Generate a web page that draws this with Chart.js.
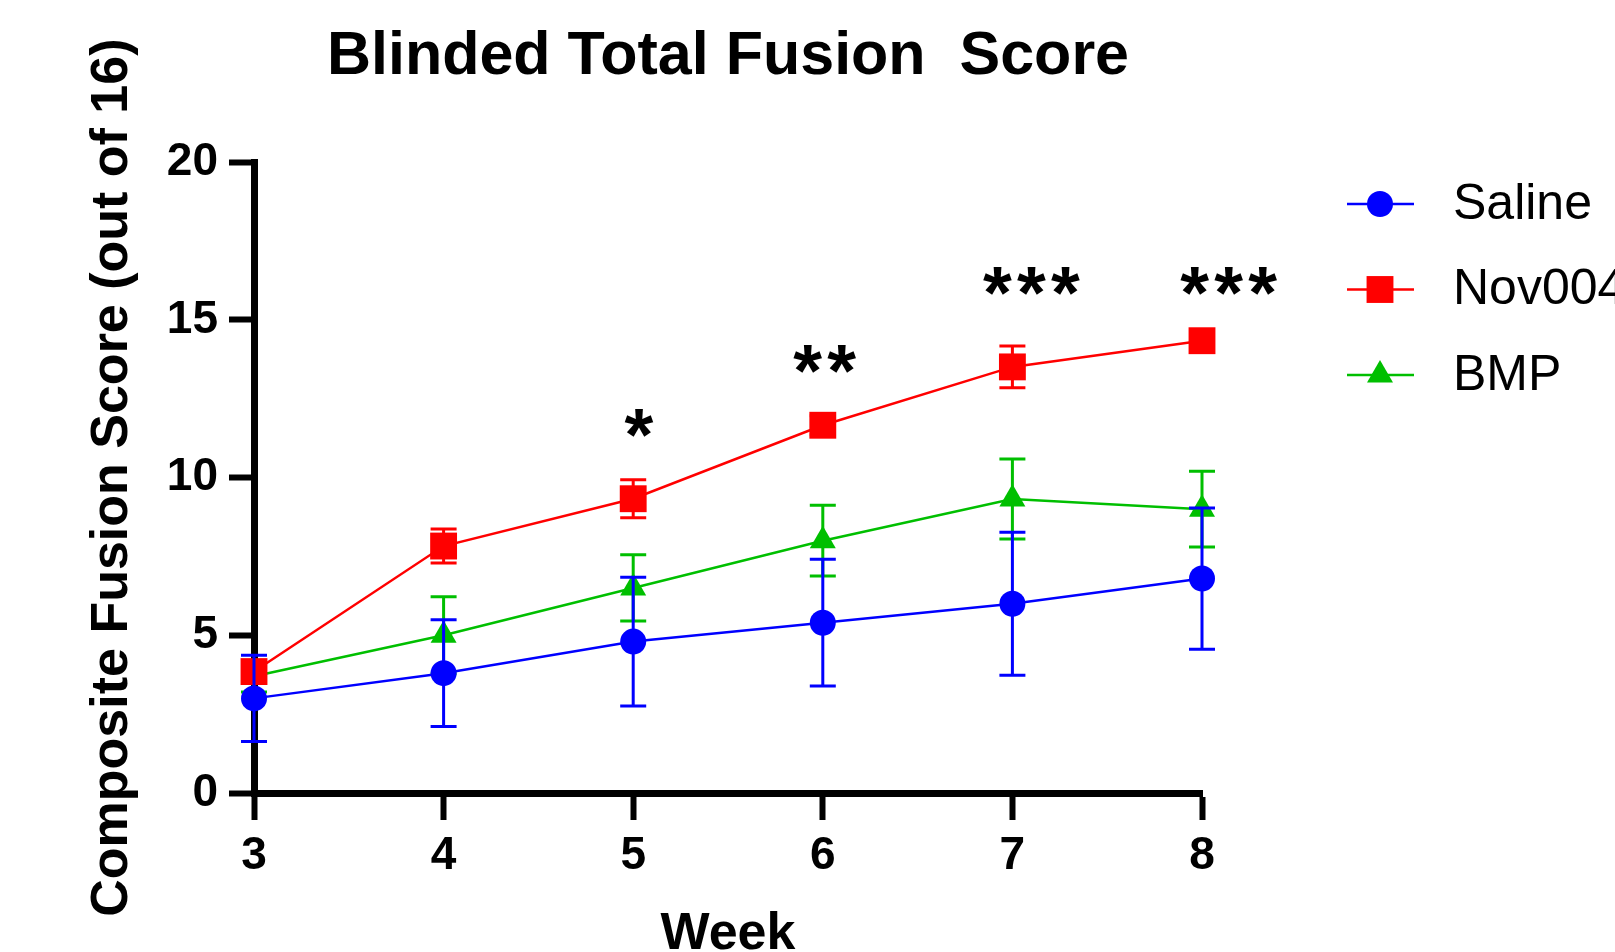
<!DOCTYPE html>
<html>
<head>
<meta charset="utf-8">
<title>Blinded Total Fusion Score</title>
<script src="https://cdn.jsdelivr.net/npm/chart.js@4.4.1/dist/chart.umd.min.js"></script>
<style>
  html, body { margin: 0; padding: 0; background: #fff; overflow: hidden; }
  canvas { display: block; }
</style>
</head>
<body>
<canvas id="fusion-chart" width="1615" height="952"></canvas>
<script>
// Data
const weeks = [3, 4, 5, 6, 7, 8];
const yTicks = [0, 5, 10, 15, 20];

const seriesNames = ['Saline', 'Nov004', 'BMP'];
const salineMean = [3.0, 3.8, 4.8, 5.4, 6.0, 6.8];
const salineErr = [1.37, 1.69, 2.04, 2.01, 2.27, 2.24];
const novMean = [3.85, 7.83, 9.33, 11.66, 13.51, 14.34];
const novErr = [0.35, 0.54, 0.6, 0.3, 0.66, 0.25];
const bmpMean = [3.7, 5.0, 6.5, 8.0, 9.32, 9.0];
const bmpErr = [0.5, 1.22, 1.05, 1.12, 1.27, 1.2];

// Significance marks (week, height in score units)
const sigWeeks = [5.03, 6.01, 7.1, 8.14];
const sigHeights = [11.85, 13.9, 16.35, 16.35];
const sigLabels = ['*', '**', '***', '***'];

const FONT = "'Liberation Sans', Arial, Helvetica, sans-serif";
const colors = ['#0000ff', '#ff0000', '#00bf00'];
const markerStyles = ['circle', 'rect', 'triangle'];
const markerRadius = [13, 19, 15];
const errorSets = [salineErr, novErr, bmpErr];

function toPoints(values) {
    return weeks.map((w, i) => ({x: w, y: values[i]}));
}

// Error bars, drawn just before each dataset so markers sit on top
const errorBarPlugin = {
    id: 'errorBars',
    beforeDatasetDraw(chart, args) {
        const ctx = chart.ctx;
        const yScale = chart.scales.y;
        const ds = chart.data.datasets[args.index];
        const errs = errorSets[args.index];
        ctx.save();
        ctx.strokeStyle = ds.borderColor;
        ctx.lineWidth = 3;
        args.meta.data.forEach((pt, i) => {
            const v = ds.data[i].y;
            const top = yScale.getPixelForValue(v + errs[i]);
            const bottom = yScale.getPixelForValue(v - errs[i]);
            const half = 13;
            ctx.beginPath();
            ctx.moveTo(pt.x, top);
            ctx.lineTo(pt.x, bottom);
            ctx.moveTo(pt.x - half, top);
            ctx.lineTo(pt.x + half, top);
            ctx.moveTo(pt.x - half, bottom);
            ctx.lineTo(pt.x + half, bottom);
            ctx.stroke();
        });
        ctx.restore();
    }
};

// Asterisks above the groups, one glyph at a time so they keep their gaps
const significancePlugin = {
    id: 'significance',
    afterDatasetsDraw(chart) {
        const ctx = chart.ctx;
        const xs = chart.scales.x, ys = chart.scales.y;
        const pitch = 34;
        ctx.save();
        ctx.fillStyle = '#000';
        ctx.font = 'bold 74px ' + FONT;
        ctx.textAlign = 'center';
        ctx.textBaseline = 'alphabetic';
        sigLabels.forEach((label, i) => {
            const cx = xs.getPixelForValue(sigWeeks[i]);
            const y = ys.getPixelForValue(sigHeights[i]) + 41;
            const n = label.length;
            for (let k = 0; k < n; k++) {
                ctx.fillText('*', cx + (k - (n - 1) / 2) * pitch, y);
            }
        });
        ctx.restore();
    }
};

function drawMarker(ctx, style, r, x, y) {
    ctx.beginPath();
    if (style === 'circle') {
        ctx.arc(x, y, r, 0, Math.PI * 2);
    } else if (style === 'rect') {
        const s = r * Math.SQRT1_2;
        ctx.rect(x - s, y - s, 2 * s, 2 * s);
    } else {
        const w = r * Math.sqrt(3) / 2;
        ctx.moveTo(x, y - r);
        ctx.lineTo(x + w, y + r / 2);
        ctx.lineTo(x - w, y + r / 2);
        ctx.closePath();
    }
    ctx.fill();
}

// Legend on the right: line with marker, then the name
const legendPlugin = {
    id: 'sideLegend',
    afterDraw(chart) {
        const ctx = chart.ctx;
        ctx.save();
        seriesNames.forEach((name, i) => {
            const y = 204 + i * 85.5;
            ctx.strokeStyle = colors[i];
            ctx.fillStyle = colors[i];
            ctx.lineWidth = 2.5;
            ctx.beginPath();
            ctx.moveTo(1347, y);
            ctx.lineTo(1414, y);
            ctx.stroke();
            drawMarker(ctx, markerStyles[i], markerRadius[i], 1380, y);
            ctx.fillStyle = '#000';
            ctx.font = '50px ' + FONT;
            ctx.textAlign = 'left';
            ctx.textBaseline = 'middle';
            ctx.fillText(name, 1453, y + 1);
        });
        ctx.restore();
    }
};

function makeDataset(i, values) {
    return {
        label: seriesNames[i],
        data: toPoints(values),
        borderColor: colors[i],
        backgroundColor: colors[i],
        borderWidth: 2.5,
        tension: 0,
        pointStyle: markerStyles[i],
        pointRadius: markerRadius[i],
        pointHoverRadius: markerRadius[i],
        pointBorderWidth: 0,
        clip: false
    };
}

const ctx = document.getElementById('fusion-chart').getContext('2d');
new Chart(ctx, {
    type: 'line',
    data: {
        datasets: [
            makeDataset(0, salineMean),
            makeDataset(1, novMean),
            makeDataset(2, bmpMean)
        ]
    },
    options: {
        responsive: false,
        animation: false,
        events: [],
        devicePixelRatio: 1,
        layout: { padding: { top: 0, right: 413, bottom: 0, left: 0 } },
        plugins: {
            legend: { display: false },
            tooltip: { enabled: false },
            title: {
                display: true,
                text: 'Blinded Total Fusion  Score',
                fullSize: false,
                color: '#000',
                font: { family: FONT, size: 61, weight: 'bold', lineHeight: 1.2 },
                padding: { top: 21, bottom: 68 }
            }
        },
        scales: {
            x: {
                type: 'linear',
                min: weeks[0],
                max: weeks[weeks.length - 1],
                afterBuildTicks: s => { s.ticks = weeks.map(v => ({value: v})); },
                afterFit: s => { s.height = 159; },
                grid: { drawOnChartArea: false, drawTicks: true, tickLength: 27, tickWidth: 6, tickColor: '#000' },
                border: { display: true, color: '#000', width: 7 },
                ticks: {
                    color: '#000',
                    padding: 9,
                    autoSkip: false,
                    maxRotation: 0,
                    font: { family: FONT, size: 46, weight: 'bold' }
                },
                title: {
                    display: true,
                    text: 'Week',
                    color: '#000',
                    font: { family: FONT, size: 52, weight: 'bold', lineHeight: 0.65 },
                    padding: { top: 0, bottom: 0 }
                }
            },
            y: {
                type: 'linear',
                min: yTicks[0],
                max: yTicks[yTicks.length - 1],
                afterBuildTicks: s => { s.ticks = yTicks.map(v => ({value: v})); },
                afterFit: s => { s.width = 254; },
                grid: { drawOnChartArea: false, drawTicks: true, tickLength: 25, tickWidth: 6, tickColor: '#000' },
                border: { display: true, color: '#000', width: 7 },
                ticks: {
                    color: '#000',
                    padding: 11,
                    font: { family: FONT, size: 46, weight: 'bold' }
                },
                title: {
                    display: true,
                    text: 'Composite Fusion Score (out of 16)',
                    color: '#000',
                    font: { family: FONT, size: 52, weight: 'bold', lineHeight: 1.2 },
                    padding: { top: 81, bottom: 0 }
                }
            }
        }
    },
    plugins: [errorBarPlugin, significancePlugin, legendPlugin]
});
</script>
</body>
</html>
